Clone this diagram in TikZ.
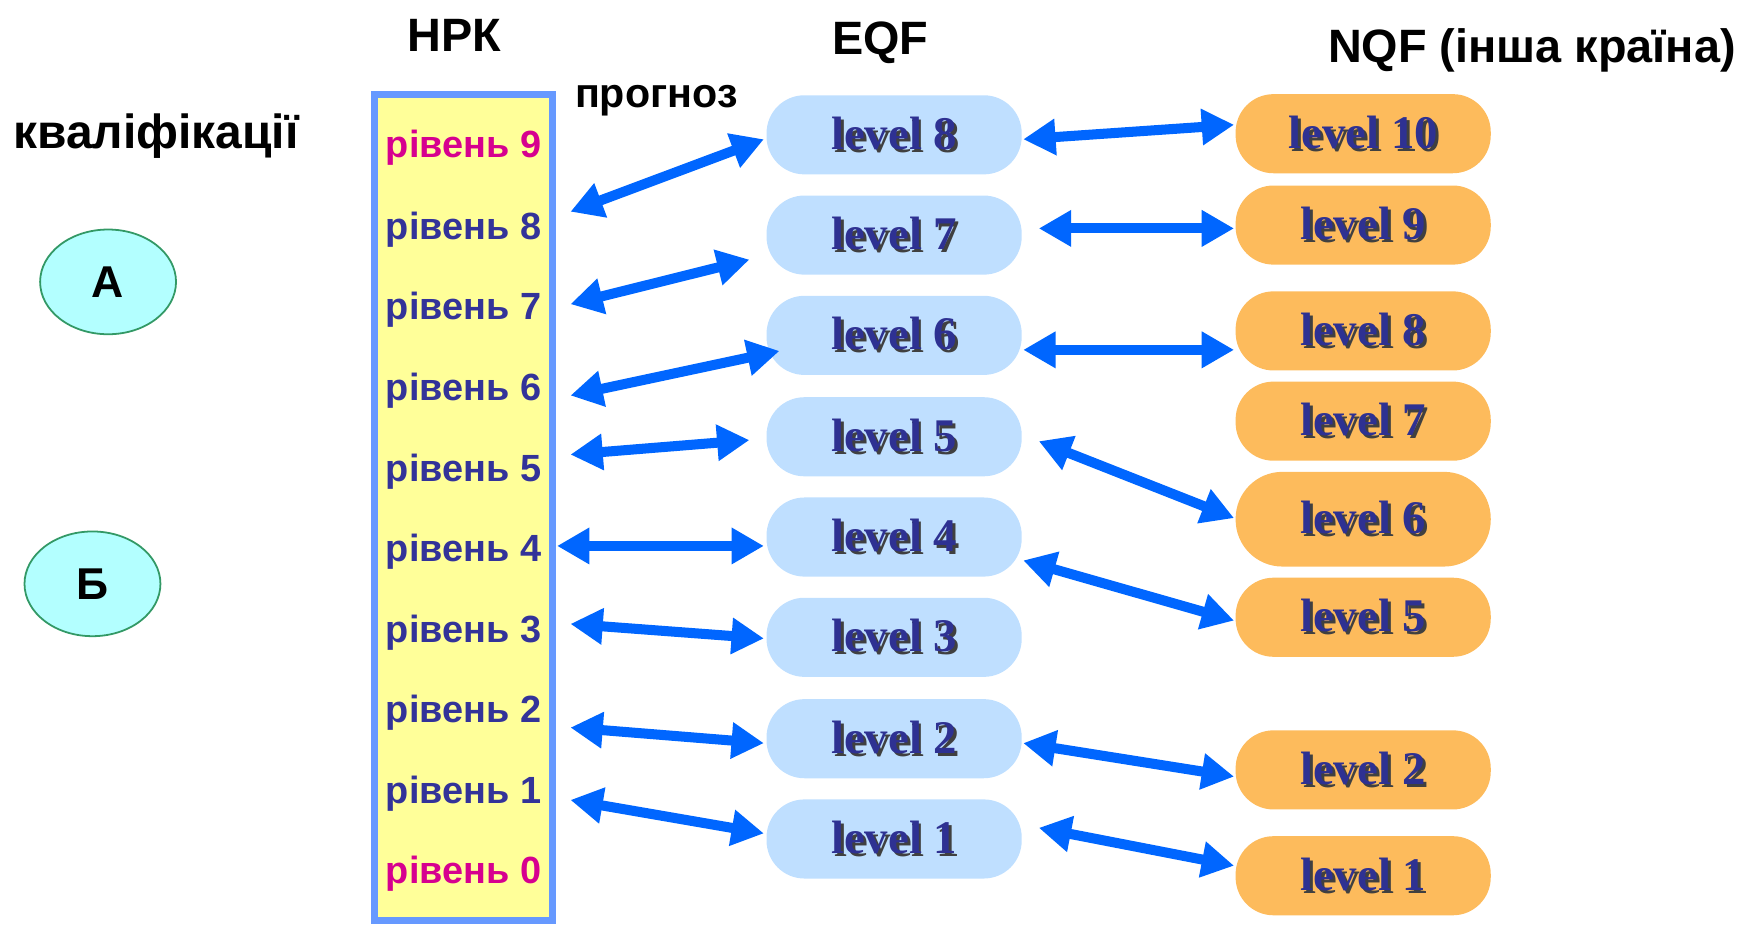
\documentclass[tikz,border=0pt]{standalone}
\usepackage{fontspec}
\setmainfont{Liberation Sans}
\newfontfamily\lvlfont{Liberation Serif}
\usepackage{tikz}
\usetikzlibrary{arrows.meta, shapes}
\definecolor{arrowblue}{RGB}{0, 102, 255}
\definecolor{frameblue}{RGB}{102, 153, 255}
\definecolor{paleyellow}{RGB}{255, 255, 153}
\definecolor{rivblue}{RGB}{51, 51, 153}
\definecolor{rivpink}{RGB}{214, 0, 143}
\definecolor{eqfblue}{RGB}{191, 223, 255}
\definecolor{nqforange}{RGB}{253, 187, 92}
\definecolor{lvlblue}{RGB}{46, 49, 146}
\definecolor{ovalcyan}{RGB}{179, 255, 255}
\definecolor{ovalgreen}{RGB}{51, 153, 102}
\newcommand{\lvltext}[1]{\makebox[0pt][l]{\hspace{1.3pt}\raisebox{-1.3pt}{\color{black!75}#1}}#1}

\begin{document}
\begin{tikzpicture}[x=0.5pt, y=-0.5pt,
    title/.style={font=\fontsize{21}{25}\selectfont\bfseries},
    riv/.style={font=\fontsize{17}{20}\selectfont\bfseries, text=rivblue, yshift=-1.5pt},
    eqfbox/.style={fill=eqfblue, rounded corners=17pt, minimum width=114.5pt, minimum height=35.5pt,
        font=\fontsize{21}{25}\selectfont\lvlfont\bfseries, text=lvlblue},
    nqfbox/.style={eqfbox, fill=nqforange},
    oval/.style={ellipse, draw=ovalgreen, fill=ovalcyan, line width=0.8pt, minimum width=61pt,
        minimum height=47pt, font=\fontsize{20}{24}\selectfont\bfseries},
    biarrow/.style={arrowblue, line width=4.5pt, {Triangle[length=14.5pt,width=15.5pt]}-{Triangle[length=14.5pt,width=15.5pt]}}]
    \useasboundingbox (0,0) rectangle (1568,830);

    % заголовки
    \node[title] (nrk) at (408,32) {НРК};
    \node[title] (eqf) at (790,38) {EQF};
    \node[title] (nqf) at (1375,45) {NQF (інша країна)};
    \node[font=\fontsize{21.5}{25}\selectfont\bfseries] (kval) at (140,122) {кваліфікації};
    \node[font=\fontsize{18.5}{22}\selectfont\bfseries] (prog) at (589,90) {прогноз};

    % овали
    \node[oval] (ova) at (97,253) {А};
    \node[oval] (ovb) at (83,524) {Б};

    % шкала НРК
    \node[draw=frameblue, line width=3pt, fill=paleyellow, minimum width=80pt, minimum height=370.5pt] (nrkbox) at (416,455.5) {};
    \node[riv, text=rivpink] (r9) at (416,130) {рівень 9};
    \node[riv] (r8) at (416,203) {рівень 8};
    \node[riv] (r7) at (416,275) {рівень 7};
    \node[riv] (r6) at (416,348) {рівень 6};
    \node[riv] (r5) at (416,420) {рівень 5};
    \node[riv] (r4) at (416,492) {рівень 4};
    \node[riv] (r3) at (416,565) {рівень 3};
    \node[riv] (r2) at (416,637) {рівень 2};
    \node[riv] (r1) at (416,709) {рівень 1};
    \node[riv, text=rivpink] (r0) at (416,781) {рівень 0};

    % EQF
    \node[eqfbox] (e8) at (802.5,121) {\lvltext{level 8}};
    \node[eqfbox] (e7) at (802.5,211) {\lvltext{level 7}};
    \node[eqfbox] (e6) at (802.5,301) {\lvltext{level 6}};
    \node[eqfbox] (e5) at (802.5,392) {\lvltext{level 5}};
    \node[eqfbox] (e4) at (802.5,482) {\lvltext{level 4}};
    \node[eqfbox] (e3) at (802.5,572) {\lvltext{level 3}};
    \node[eqfbox] (e2) at (802.5,663) {\lvltext{level 2}};
    \node[eqfbox] (e1) at (802.5,753) {\lvltext{level 1}};

    % NQF
    \node[nqfbox] (n10) at (1223.5,120) {\lvltext{level 10}};
    \node[nqfbox] (n9) at (1223.5,202) {\lvltext{level 9}};
    \node[nqfbox] (n8) at (1223.5,297) {\lvltext{level 8}};
    \node[nqfbox] (n7) at (1223.5,378) {\lvltext{level 7}};
    \node[nqfbox, minimum height=42.5pt, rounded corners=21pt] (n6) at (1223.5,466) {\lvltext{level 6}};
    \node[nqfbox] (n5) at (1223.5,554) {\lvltext{level 5}};
    \node[nqfbox] (n2) at (1223.5,691) {\lvltext{level 2}};
    \node[nqfbox] (n1) at (1223.5,786) {\lvltext{level 1}};

    % НРК -- EQF
    \draw[biarrow] ([shift={(96,-16)}]r8.center) -- ([shift={(-2,4)}]e8.west);
    \draw[biarrow] ([shift={(96,-5)}]r7.center) -- ([shift={(-15,22)}]e7.west);
    \draw[biarrow] ([shift={(96,4)}]r6.center) -- ([shift={(12,14)}]e6.west);
    \draw[biarrow] ([shift={(96,-15)}]r5.center) -- ([shift={(-15,3)}]e5.west);
    \draw[biarrow] ([shift={(84,-5)}]r4.center) -- ([shift={(-2,8)}]e4.west);
    \draw[biarrow] ([shift={(96,-8)}]r3.center) -- ([shift={(-2,1)}]e3.west);
    \draw[biarrow] ([shift={(96,13)}]r2.center) -- ([shift={(-2,4)}]e2.west);
    \draw[biarrow] ([shift={(96,6)}]r1.center) -- ([shift={(-2,-5)}]e1.west);

    % EQF -- NQF
    \draw[biarrow] ([shift={(1,4)}]e8.east) -- ([shift={(-1,-8)}]n10.west);
    \draw[biarrow] ([shift={(15,-6)}]e7.east) -- ([shift={(-1,3)}]n9.west);
    \draw[biarrow] ([shift={(1,13)}]e6.east) -- ([shift={(-1,17)}]n8.west);
    \draw[biarrow] ([shift={(15,4)}]e5.east) -- ([shift={(-1,-1)}]n6.west);
    \draw[biarrow] ([shift={(1,21)}]e4.east) -- ([shift={(-1,3)}]n5.west);
    \draw[biarrow] ([shift={(1,4)}]e2.east) -- ([shift={(-1,6)}]n2.west);
    \draw[biarrow] ([shift={(15,-10)}]e1.east) -- ([shift={(-1,-9)}]n1.west);

\end{tikzpicture}
\end{document}
